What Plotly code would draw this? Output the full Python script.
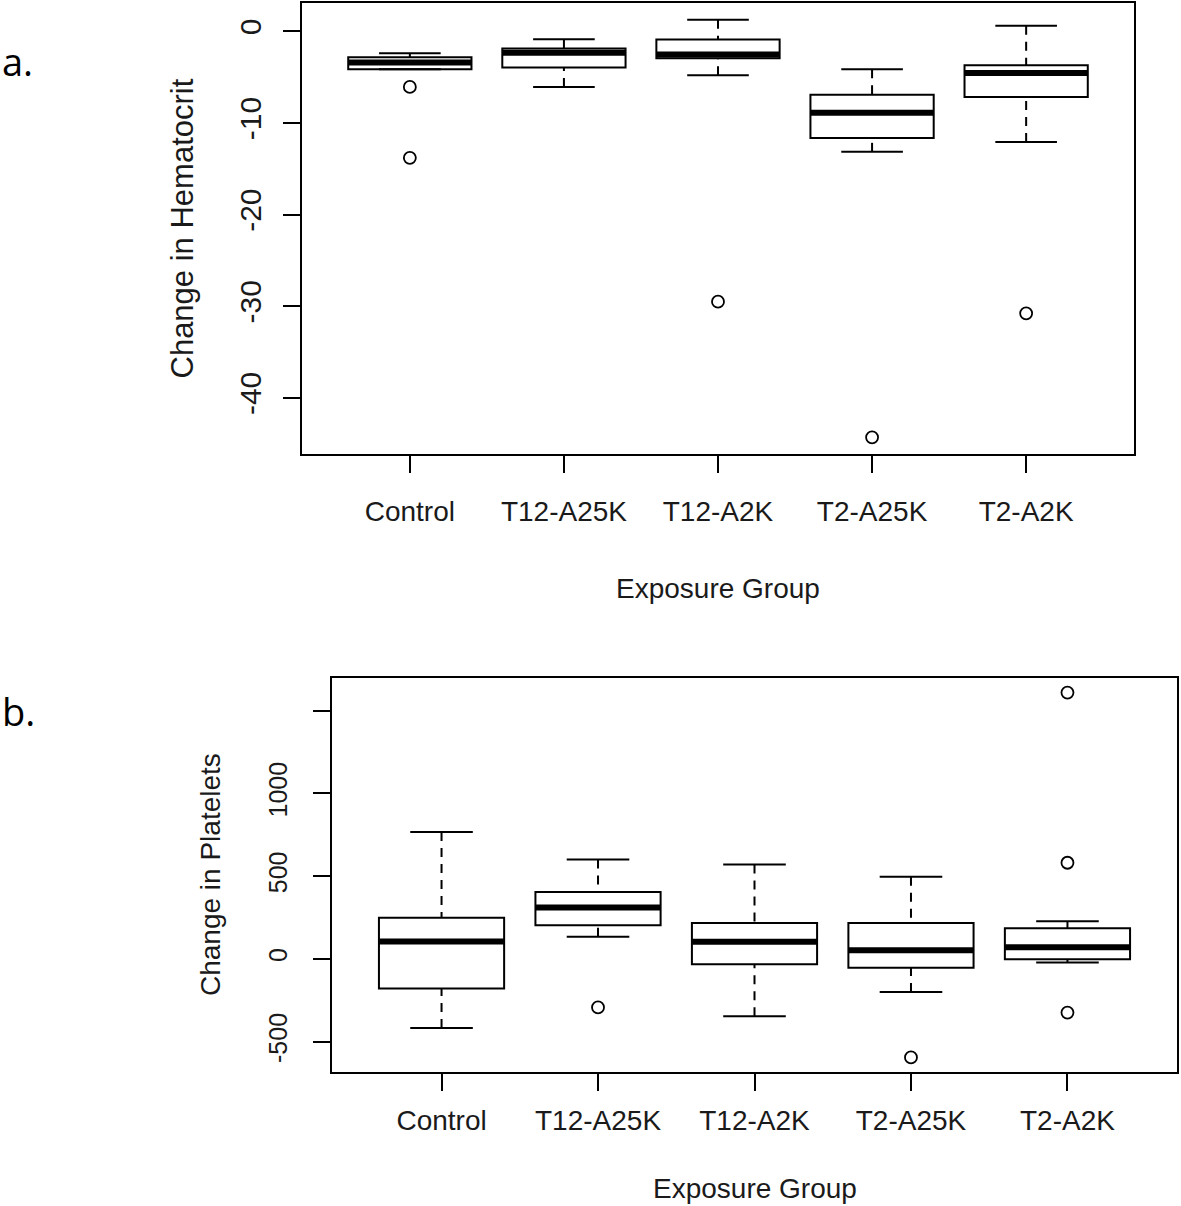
import plotly.graph_objects as go

# ---------------- data ----------------
groups = ["Control", "T12-A25K", "T12-A2K", "T2-A25K", "T2-A2K"]

# Panel a: Change in Hematocrit
hct_lower = [-4.12, -6.06, -4.78, -13.14, -12.08]
hct_q1 = [-4.12, -3.94, -2.92, -11.64, -7.15]
hct_median = [-3.40, -2.34, -2.52, -8.87, -4.53]
hct_q3 = [-2.81, -1.86, -0.88, -6.90, -3.69]
hct_upper = [-2.37, -0.84, 1.28, -4.12, 0.62]
hct_out_group = [1, 1, 3, 4, 5]
hct_out_value = [-6.06, -13.8, -29.5, -44.3, -30.77]
hct_ticks = [-40, -30, -20, -10, 0]

# Panel b: Change in Platelets
plt_lower = [-417, 134, -346, -200, -22]
plt_q1 = [-178, 204, -32, -53, -2]
plt_median = [105, 310, 103, 53, 71]
plt_q3 = [249, 405, 217, 217, 186]
plt_upper = [767, 601, 571, 496, 227]
plt_out_group = [2, 4, 5, 5, 5]
plt_out_value = [-293, -595, 1609, 581, -324]
plt_ticks = [-500, 0, 500, 1000, 1500]
plt_ticktext = ["-500", "0", "500", "1000", ""]

W, H = 1181, 1206
FONT = "Liberation Sans, Arial, sans-serif"
TXT = "#1a1a1a"
BOXW = 0.8
STAPLE = 0.4

fig = go.Figure()


def add_panel(xa, ya, lower, q1, med, q3, upper, og, ov):
    xs = list(range(1, len(groups) + 1))
    xref = "x" if xa == 1 else "x%d" % xa
    yref = "y" if ya == 1 else "y%d" % ya
    fig.add_trace(go.Box(
        x=xs, q1=q1, median=med, q3=q3, lowerfence=q1, upperfence=q3,
        width=BOXW, whiskerwidth=0, boxpoints=False,
        fillcolor="white", line=dict(color="black", width=2),
        xaxis=xref, yaxis=yref, hoverinfo="skip", showlegend=False))
    # dashed whiskers (drawn from whisker end to hinge, like R)
    wx, wy = [], []
    for i, x in enumerate(xs):
        wx += [x, x, None, x, x, None]
        wy += [upper[i], q3[i], None, lower[i], q1[i], None]
    fig.add_trace(go.Scatter(x=wx, y=wy, mode="lines",
                             line=dict(color="black", width=2, dash="9px,7px"),
                             xaxis=xref, yaxis=yref, hoverinfo="skip", showlegend=False))
    # staples
    sx, sy = [], []
    for i, x in enumerate(xs):
        sx += [x - STAPLE / 2, x + STAPLE / 2, None, x - STAPLE / 2, x + STAPLE / 2, None]
        sy += [upper[i], upper[i], None, lower[i], lower[i], None]
    fig.add_trace(go.Scatter(x=sx, y=sy, mode="lines",
                             line=dict(color="black", width=2),
                             xaxis=xref, yaxis=yref, hoverinfo="skip", showlegend=False))
    # thick medians
    mx, my = [], []
    for i, x in enumerate(xs):
        mx += [x - BOXW / 2, x + BOXW / 2, None]
        my += [med[i], med[i], None]
    fig.add_trace(go.Scatter(x=mx, y=my, mode="lines",
                             line=dict(color="black", width=6),
                             xaxis=xref, yaxis=yref, hoverinfo="skip", showlegend=False))
    # outliers
    fig.add_trace(go.Scatter(x=og, y=ov, mode="markers",
                             marker=dict(symbol="circle-open", size=12, color="black",
                                         line=dict(width=1.8, color="black")),
                             xaxis=xref, yaxis=yref, hoverinfo="skip", showlegend=False))


add_panel(1, 1, hct_lower, hct_q1, hct_median, hct_q3, hct_upper, hct_out_group, hct_out_value)
add_panel(2, 2, plt_lower, plt_q1, plt_median, plt_q3, plt_upper, plt_out_group, plt_out_value)


def r_range(vals):
    lo, hi = min(vals), max(vals)
    d = (hi - lo) * 0.04
    return [lo - d, hi + d]


hct_all = hct_lower + hct_upper + hct_out_value
plt_all = plt_lower + plt_upper + plt_out_value

ax_common = dict(showline=True, linewidth=2, linecolor="black", mirror=True,
                 ticks="outside", ticklen=17, tickwidth=2, tickcolor="black",
                 showgrid=False, zeroline=False, fixedrange=True)


def tf(size):
    return dict(family=FONT, size=size, color=TXT)


def px_x(p):
    return p / W


def px_y(p):
    return 1 - p / H


fig.update_layout(
    width=W, height=H, autosize=False,
    margin=dict(l=0, r=0, t=0, b=0),
    paper_bgcolor="white", plot_bgcolor="white",
    showlegend=False, hovermode=False,
    xaxis=dict(domain=[px_x(302), px_x(1134)], range=[0.3, 5.7],
               tickvals=[1, 2, 3, 4, 5], ticktext=groups, anchor="y",
               ticklabelstandoff=14, tickfont=tf(28), **ax_common),
    yaxis=dict(domain=[px_y(454), px_y(3)], range=r_range(hct_all),
               tickvals=hct_ticks, ticktext=[str(t) for t in hct_ticks],
               tickangle=-90, anchor="x", ticklabelstandoff=10, tickfont=tf(30),
               **ax_common),
    xaxis2=dict(domain=[px_x(332), px_x(1177)], range=[0.3, 5.7],
                tickvals=[1, 2, 3, 4, 5], ticktext=groups, anchor="y2",
                ticklabelstandoff=5, tickfont=tf(28), **ax_common),
    yaxis2=dict(domain=[px_y(1072), px_y(678)], range=r_range(plt_all),
                tickvals=plt_ticks, ticktext=plt_ticktext,
                tickangle=-90, anchor="x2", ticklabelstandoff=16, tickfont=tf(25),
                **ax_common),
)

annotations = [
    dict(text="Exposure Group", x=(302 + 1134) / 2 / W, y=px_y(588),
         xref="paper", yref="paper", showarrow=False, font=tf(28),
         xanchor="center", yanchor="middle"),
    dict(text="Change in Hematocrit", x=px_x(182), y=px_y((3 + 454) / 2),
         xref="paper", yref="paper", showarrow=False, font=tf(31), textangle=-90,
         xanchor="center", yanchor="middle"),
    dict(text="Exposure Group", x=(332 + 1177) / 2 / W, y=px_y(1188),
         xref="paper", yref="paper", showarrow=False, font=tf(28),
         xanchor="center", yanchor="middle"),
    dict(text="Change in Platelets", x=px_x(210), y=px_y((678 + 1072) / 2),
         xref="paper", yref="paper", showarrow=False, font=tf(28), textangle=-90,
         xanchor="center", yanchor="middle"),
    dict(text="a.", x=px_x(0), y=px_y(61), xref="paper", yref="paper",
         showarrow=False, font=dict(family="Open Sans, sans-serif", size=38, color="black"),
         xanchor="left", yanchor="middle"),
    dict(text="b.", x=px_x(0), y=px_y(711), xref="paper", yref="paper",
         showarrow=False, font=dict(family="Open Sans, sans-serif", size=38, color="black"),
         xanchor="left", yanchor="middle"),
]
fig.update_layout(annotations=annotations)

fig.write_html("out.html", config={"displayModeBar": False, "staticPlot": True},
               post_script="document.body.style.margin='0px';")
